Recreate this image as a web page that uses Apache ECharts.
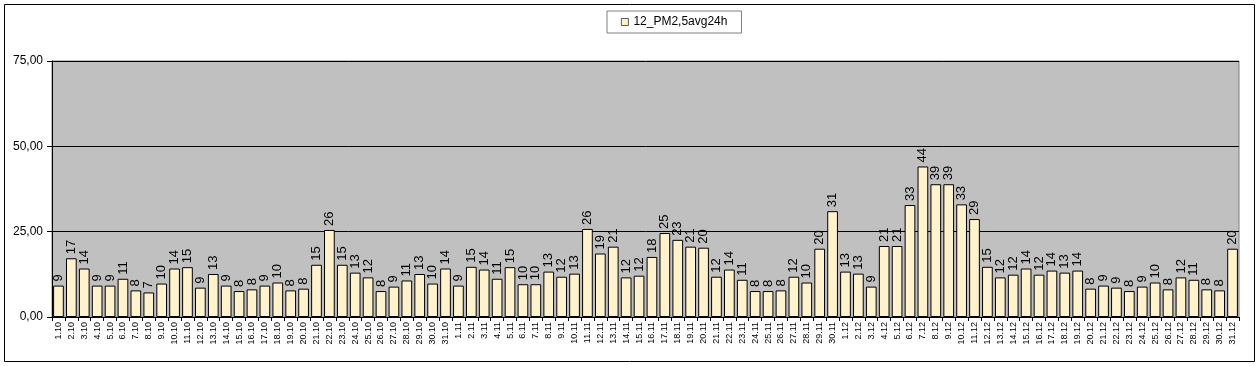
<!DOCTYPE html>
<html><head><meta charset="utf-8">
<script src="https://cdn.jsdelivr.net/npm/echarts@6/dist/echarts.min.js"></script>
<style>html,body{margin:0;padding:0;background:#fff}#c{width:1260px;height:366px}</style>
</head><body><div id="c"></div>
<script>
const categories = ["1.10","2.10","3.10","4.10","5.10","6.10","7.10","8.10","9.10","10.10","11.10","12.10","13.10","14.10","15.10","16.10","17.10","18.10","19.10","20.10","21.10","22.10","23.10","24.10","25.10","26.10","27.10","28.10","29.10","30.10","31.10",
"1.11","2.11","3.11","4.11","5.11","6.11","7.11","8.11","9.11","10.11","11.11","12.11","13.11","14.11","15.11","16.11","17.11","18.11","19.11","20.11","21.11","22.11","23.11","24.11","25.11","26.11","27.11","28.11","29.11","30.11",
"1.12","2.12","3.12","4.12","5.12","6.12","7.12","8.12","9.12","10.12","11.12","12.12","13.12","14.12","15.12","16.12","17.12","18.12","19.12","20.12","21.12","22.12","23.12","24.12","25.12","26.12","27.12","28.12","29.12","30.12","31.12"];
const pm25 = [9.2,17.2,14.2,9.2,9.2,11.2,7.8,7.2,9.8,14.2,14.6,8.6,12.6,9.2,7.6,8.1,9.2,10.1,7.8,8.3,15.3,25.5,15.3,13.0,11.6,7.6,8.9,10.7,12.6,9.8,14.2,
9.2,14.7,13.9,11.2,14.6,9.6,9.6,13.3,11.8,12.7,25.8,18.6,20.6,11.6,12.1,17.6,24.6,22.6,20.6,20.3,11.8,13.9,10.9,7.6,7.6,7.8,11.8,10.1,20.0,31.0,
13.3,12.7,8.9,20.8,20.8,32.8,44.1,38.9,38.9,33.0,28.7,14.7,11.6,12.4,14.2,12.4,13.6,13.0,13.6,8.3,9.2,8.6,7.6,8.9,10.1,8.1,11.6,10.9,8.1,7.8,20.0];
const yTicks = [0,25,50,75];
const seriesName = "12_PM2,5avg24h";

const chart = echarts.init(document.getElementById('c'), null, {renderer:'canvas'});
chart.setOption({
  animation:false,
  textStyle:{fontFamily:'Liberation Sans, Arial, sans-serif'},
  graphic:[{type:'rect',shape:{x:4.5,y:4.5,width:1250,height:357},style:{fill:'none',stroke:'#000',lineWidth:1},z:-10}],
  legend:{
    data:[seriesName], left:607, top:11, width:136,
    borderColor:'#808080', borderWidth:1, padding:[5,14,5,14],
    itemWidth:7, itemHeight:7, itemGap:4, icon:'rect',
    itemStyle:{borderWidth:0.8,borderColor:'#333'},
    textStyle:{fontSize:12,color:'#000',fontFamily:'Liberation Sans, Arial, sans-serif'}
  },
  grid:{left:52,right:21,top:61,bottom:49,show:true,backgroundColor:'#c0c0c0',borderColor:'#808080',borderWidth:1},
  xAxis:{
    type:'category', data:categories,
    axisLine:{lineStyle:{color:'#000'}},
    axisTick:{show:true,length:4,lineStyle:{color:'#000'}},
    axisLabel:{rotate:90,fontSize:9,color:'#000',interval:0,margin:5}
  },
  yAxis:{
    type:'value', min:0, max:75, interval:25,
    axisLine:{show:true,lineStyle:{color:'#000'}},
    axisTick:{show:true,length:5,lineStyle:{color:'#000'}},
    axisLabel:{fontSize:12,color:'#000',margin:9,formatter:v=>v.toFixed(2).replace('.',',')},
    splitLine:{show:true,lineStyle:{color:'#000',width:1}}
  },
  series:[{
    name:seriesName, type:'bar', data:pm25, barCategoryGap:'17%',
    itemStyle:{color:'#fff2cc',borderColor:'#000',borderWidth:1},
    label:{show:true,position:'top',rotate:90,align:'left',verticalAlign:'middle',distance:4,
      fontSize:13,color:'#000',formatter:p=>Math.round(p.value)}
  }]
});
</script></body></html>
